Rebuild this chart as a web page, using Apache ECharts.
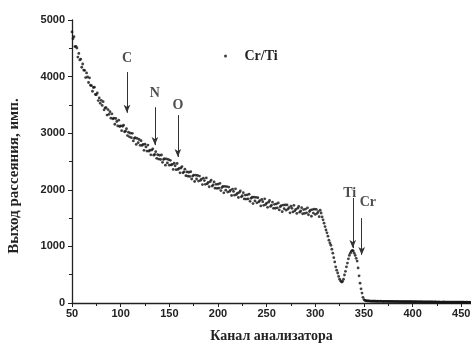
<!DOCTYPE html>
<html>
<head>
<meta charset="utf-8">
<script src="https://cdn.jsdelivr.net/npm/echarts@6/dist/echarts.min.js"></script>
<style>
  html, body { margin: 0; padding: 0; background: #fff; }
  #chart { width: 471px; height: 345px; }
</style>
</head>
<body>
<div id="chart"></div>
<script>
// channel 50..460, one count per channel
const firstChannel = 50
const counts = [
  4790, 4670, 4705, 4530, 4535, 4505, 4345, 4410, 4295, 4310,
  4165, 4223, 4116, 4109, 3982, 4065, 3993, 3896, 3979, 3847,
  3840, 3741, 3807, 3813, 3684, 3680, 3711, 3577, 3623, 3529,
  3580, 3491, 3557, 3413, 3449, 3450, 3321, 3417, 3333, 3379,
  3265, 3342, 3254, 3266, 3158, 3260, 3207, 3129, 3231, 3118,
  3130, 3044, 3123, 3142, 3026, 3035, 3079, 2958, 3017, 2936,
  3000, 2921, 2997, 2863, 2909, 2920, 2801, 2907, 2833, 2889,
  2785, 2867, 2784, 2801, 2698, 2805, 2757, 2684, 2791, 2683,
  2700, 2618, 2701, 2724, 2612, 2625, 2673, 2556, 2619, 2542,
  2610, 2535, 2615, 2485, 2535, 2550, 2435, 2545, 2475, 2535,
  2435, 2520, 2440, 2450, 2360, 2470, 2425, 2355, 2465, 2360,
  2380, 2300, 2385, 2410, 2300, 2315, 2365, 2250, 2315, 2240,
  2310, 2237, 2319, 2191, 2243, 2260, 2147, 2259, 2191, 2253,
  2155, 2243, 2166, 2189, 2092, 2205, 2163, 2096, 2209, 2107,
  2130, 2054, 2143, 2172, 2066, 2085, 2139, 2028, 2097, 2026,
  2100, 2029, 2112, 1986, 2039, 2058, 1946, 2060, 1993, 2057,
  1960, 2049, 1972, 1996, 1899, 2013, 1971, 1905, 2018, 1917,
  1940, 1864, 1953, 1982, 1876, 1895, 1949, 1838, 1907, 1836,
  1910, 1839, 1922, 1796, 1849, 1868, 1756, 1870, 1803, 1867,
  1770, 1860, 1785, 1810, 1715, 1830, 1790, 1725, 1840, 1740,
  1765, 1690, 1781, 1811, 1707, 1727, 1783, 1673, 1744, 1674,
  1750, 1681, 1768, 1644, 1701, 1722, 1614, 1730, 1667, 1733,
  1640, 1732, 1659, 1686, 1593, 1710, 1672, 1609, 1726, 1628,
  1655, 1582, 1675, 1707, 1605, 1627, 1685, 1577, 1650, 1582,
  1660, 1593, 1681, 1559, 1617, 1640, 1533, 1651, 1589, 1657,
  1565, 1655, 1585, 1615, 1525, 1640, 1590, 1520, 1470, 1410,
  1350, 1290, 1240, 1180, 1110, 1060, 1020, 950, 880, 800,
  725, 640, 580, 530, 470, 420, 390, 370, 380, 420,
  495, 560, 640, 705, 780, 840, 880, 910, 930, 920,
  880, 840, 790, 740, 620, 480, 350, 250, 175, 100,
  60, 45, 40, 38, 35, 36, 34, 33, 32, 33,
  32, 31, 33, 30, 31, 29, 30, 32, 29, 28,
  30, 28, 29, 27, 28, 30, 27, 26, 28, 27,
  26, 27, 25, 26, 28, 25, 24, 26, 25, 24,
  25, 23, 24, 26, 23, 22, 24, 23, 22, 24,
  22, 21, 23, 22, 20, 22, 21, 20, 22, 21,
  20, 19, 21, 20, 18, 20, 19, 18, 20, 19,
  18, 19, 17, 18, 19, 17, 16, 18, 17, 16,
  17, 16, 18, 16, 15, 17, 16, 15, 16, 15,
  16, 14, 15, 16, 14, 15, 14, 13, 15, 14,
  13, 14, 15, 13, 12, 14, 13, 12, 13, 12,
  12
]

// element markers: arrow channel, arrow top / tip (counts), label position
const markNames = ['C', 'N', 'O', 'Ti', 'Cr']
const markChannels = [106.5, 135.2, 158.8, 338.5, 347.7]
const markTops = [4080, 3460, 3320, 1855, 1500]
const markTips = [3360, 2790, 2580, 970, 850]
const labelChannels = [106.5, 135.2, 158.8, 335.4, 354]
const labelCounts = [4330, 3710, 3500, 1943, 1770]

const points = counts.map((c, i) => [firstChannel + i, c])

const serif = '"Liberation Serif", "DejaVu Serif", serif'
const sans = '"Liberation Sans", Arial, sans-serif'
const ink = '#222'

const chart = echarts.init(document.getElementById('chart'))

chart.setOption({
  backgroundColor: '#fff',
  animation: false,
  grid: { left: 72, right: 0, top: 20, bottom: 42, outerBoundsMode: 'none' },
  legend: {
    data: ['Cr/Ti'],
    left: 219,
    top: 44,
    itemWidth: 28,
    itemHeight: 3,
    textStyle: { fontFamily: serif, fontWeight: 'bold', fontSize: 14, color: ink }
  },
  xAxis: {
    type: 'value',
    min: 50,
    max: 460,
    interval: 50,
    name: 'Канал анализатора',
    nameLocation: 'middle',
    nameGap: 26,
    nameTextStyle: { fontFamily: serif, fontWeight: 'bold', fontSize: 14, color: ink },
    axisLine: { lineStyle: { color: ink, width: 1.3 } },
    axisTick: { length: 4, lineStyle: { color: ink } },
    minorTick: { show: true, splitNumber: 2, length: 3, lineStyle: { color: ink } },
    axisLabel: {
      fontFamily: sans, fontWeight: 'bold', fontSize: 11, color: ink, margin: 5,
      showMaxLabel: false, formatter: v => String(v)
    },
    splitLine: { show: false }
  },
  yAxis: {
    type: 'value',
    min: 0,
    max: 5000,
    interval: 1000,
    axisLine: { show: true, lineStyle: { color: ink, width: 1.3 } },
    axisTick: { show: true, length: 4, lineStyle: { color: ink } },
    minorTick: { show: true, splitNumber: 2, length: 3, lineStyle: { color: ink } },
    axisLabel: { fontFamily: sans, fontWeight: 'bold', fontSize: 11, color: ink, margin: 7, formatter: v => String(v) },
    splitLine: { show: false }
  },
  graphic: [{
    type: 'text',
    x: 14,
    y: 176,
    rotation: Math.PI / 2,
    style: {
      text: 'Выход рассеяния, имп.',
      fontFamily: serif,
      fontWeight: 'bold',
      fontSize: 15,
      fill: ink,
      align: 'center',
      verticalAlign: 'middle'
    }
  }],
  series: [
    {
      name: 'Cr/Ti',
      type: 'scatter',
      data: points,
      symbol: 'circle',
      symbolSize: 2.8,
      itemStyle: { color: '#111' },
      markLine: {
        silent: true,
        symbol: ['none', 'arrow'],
        symbolSize: [5, 8],
        label: { show: false },
        lineStyle: { color: '#333', width: 1, type: 'solid' },
        data: markNames.map((n, i) => [
          { coord: [markChannels[i], markTops[i]] },
          { coord: [markChannels[i], markTips[i]] }
        ])
      }
    },
    {
      name: 'labels',
      type: 'scatter',
      symbolSize: 0,
      silent: true,
      data: markNames.map((n, i) => ({ name: n, value: [labelChannels[i], labelCounts[i]] })),
      label: {
        show: true,
        position: 'inside',
        formatter: p => p.name,
        fontFamily: serif,
        fontWeight: 'bold',
        fontSize: 14,
        color: ink
      }
    }
  ]
})
</script>
</body>
</html>
